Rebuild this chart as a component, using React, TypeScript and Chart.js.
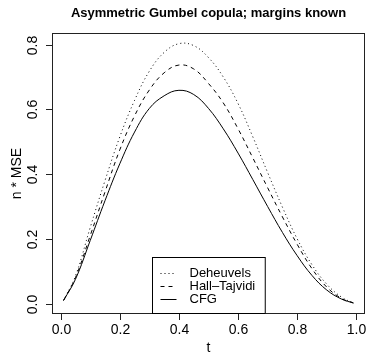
import React, { useEffect, useRef } from "react";
import { Chart, registerables } from "chart.js";

Chart.register(...registerables);

const title = "Asymmetric Gumbel copula; margins known";
const xLabel = "t";
const yLabel = "n * MSE";
const seriesNames = ["Deheuvels", "Hall\u2013Tajvidi", "CFG"];

const tValues = [0.01, 0.05, 0.1, 0.15, 0.2, 0.25, 0.3, 0.35, 0.4, 0.45, 0.5, 0.55, 0.6, 0.65, 0.7, 0.75, 0.8, 0.85, 0.9, 0.95, 0.99];
const deheuvels = [0.01, 0.085, 0.235, 0.38, 0.515, 0.628, 0.718, 0.776, 0.803, 0.797, 0.76, 0.7, 0.618, 0.515, 0.405, 0.298, 0.2, 0.12, 0.06, 0.02, 0.002];
const hallTajvidi = [0.01, 0.08, 0.21, 0.345, 0.475, 0.58, 0.66, 0.713, 0.737, 0.725, 0.68, 0.62, 0.54, 0.45, 0.358, 0.268, 0.183, 0.108, 0.051, 0.016, 0.002];
const cfg = [0.01, 0.075, 0.195, 0.318, 0.432, 0.53, 0.603, 0.642, 0.659, 0.646, 0.603, 0.54, 0.465, 0.383, 0.3, 0.22, 0.148, 0.087, 0.042, 0.014, 0.002];

const xTicks = [0, 0.2, 0.4, 0.6, 0.8, 1.0];
const xTickLabels = ["0.0", "0.2", "0.4", "0.6", "0.8", "1.0"];
const yTicks = [0, 0.2, 0.4, 0.6, 0.8];
const yTickLabels = ["0.0", "0.2", "0.4", "0.6", "0.8"];

const FONT = "'Liberation Sans', Arial, Helvetica, sans-serif";

const rAxesPlugin = {
  id: "rAxes",
  afterDraw(chart: any) {
    const ctx = chart.ctx as CanvasRenderingContext2D;
    const { left, right, top, bottom } = chart.chartArea;
    const xs = chart.scales.x;
    const ys = chart.scales.y;
    ctx.save();
    ctx.strokeStyle = "#222";
    ctx.fillStyle = "#000";
    ctx.lineWidth = 1;
    // box
    ctx.strokeRect(Math.round(left) + 0.5, Math.round(top) + 0.5, Math.round(right - left) - 1, Math.round(bottom - top) - 1);
    // x ticks
    ctx.font = `14px ${FONT}`;
    ctx.textAlign = "center";
    ctx.textBaseline = "middle";
    xTicks.forEach((v, i) => {
      const px = Math.round(xs.getPixelForValue(v)) + 0.5;
      ctx.beginPath();
      ctx.moveTo(px, bottom);
      ctx.lineTo(px, bottom + 6);
      ctx.stroke();
      ctx.fillText(xTickLabels[i], px, bottom + 16);
    });
    // y ticks
    yTicks.forEach((v, i) => {
      const py = Math.round(ys.getPixelForValue(v)) + 0.5;
      ctx.beginPath();
      ctx.moveTo(left - 6, py);
      ctx.lineTo(left, py);
      ctx.stroke();
      ctx.save();
      ctx.translate(left - 19, py);
      ctx.rotate(-Math.PI / 2);
      ctx.fillText(yTickLabels[i], 0, 0);
      ctx.restore();
    });
    // axis titles
    ctx.fillText(xLabel, (left + right) / 2, bottom + 34);
    ctx.save();
    ctx.translate(left - 35, (top + bottom) / 2);
    ctx.rotate(-Math.PI / 2);
    ctx.fillText(yLabel, 0, 0);
    ctx.restore();
    // title
    ctx.font = `bold 13px ${FONT}`;
    ctx.fillText(title, (left + right) / 2, top - 20);

    // legend (R "bottom" placement)
    ctx.font = `13px ${FONT}`;
    const textW = Math.max(...seriesNames.map((s) => ctx.measureText(s).width));
    const rowH = 13;
    const segLen = 16;
    const pad = 8;
    const gap = 13;
    const boxW = pad + segLen + gap + textW + pad + 2;
    const boxH = rowH * seriesNames.length + 18;
    const bx = Math.round((left + right) / 2 - boxW / 2) + 0.5;
    const by = Math.round(bottom - boxH) + 0.5;
    ctx.fillStyle = "#fff";
    ctx.fillRect(bx, by, boxW, bottom - by);
    ctx.strokeStyle = "#000";
    ctx.strokeRect(bx, by, boxW, bottom - 0.5 - by);
    const dashes = [[1, 3], [4, 4], []];
    ctx.fillStyle = "#000";
    ctx.textAlign = "left";
    seriesNames.forEach((s, i) => {
      const cy = by + 9 + rowH * (i + 0.5);
      ctx.setLineDash(dashes[i]);
      ctx.beginPath();
      ctx.moveTo(bx + pad, Math.round(cy) + 0.5);
      ctx.lineTo(bx + pad + segLen, Math.round(cy) + 0.5);
      ctx.stroke();
      ctx.setLineDash([]);
      ctx.fillText(s, bx + pad + segLen + gap, cy);
    });
    ctx.restore();
  },
};

export default function App() {
  const ref = useRef<HTMLCanvasElement>(null);
  useEffect(() => {
    if (!ref.current) return;
    const mk = (vals: number[]) => tValues.map((t, i) => ({ x: t, y: vals[i] }));
    const common = {
      borderColor: "#000",
      borderWidth: 1,
      pointRadius: 0,
      fill: false,
      tension: 0.4,
    };
    const chart = new Chart(ref.current, {
      type: "line",
      data: {
        datasets: [
          { label: seriesNames[0], data: mk(deheuvels), borderDash: [1, 3], ...common },
          { label: seriesNames[1], data: mk(hallTajvidi), borderDash: [4, 4], ...common },
          { label: seriesNames[2], data: mk(cfg), ...common },
        ],
      },
      options: {
        animation: false,
        responsive: false,
        devicePixelRatio: 1,
        layout: { padding: { left: 52, top: 33, right: 2, bottom: 41 } },
        plugins: { legend: { display: false }, tooltip: { enabled: false } },
        scales: {
          x: { type: "linear", min: -0.0292, max: 1.0292, display: false },
          y: { type: "linear", min: -0.032, max: 0.836, display: false },
        },
      },
      plugins: [rAxesPlugin],
    });
    return () => chart.destroy();
  }, []);
  return (
    <div style={{ position: "fixed", left: 0, top: 0, width: 367, height: 355, background: "#fff" }}>
      <canvas ref={ref} width={367} height={355} style={{ display: "block" }} />
    </div>
  );
}
